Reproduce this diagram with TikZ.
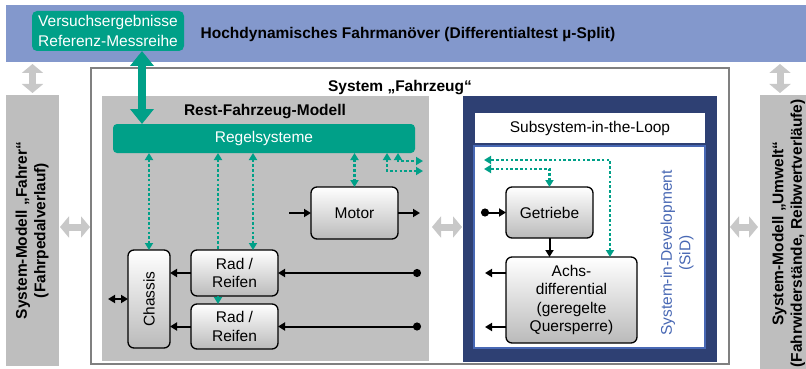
\documentclass[tikz,border=0pt]{standalone}
\usepackage{fontspec}
\setmainfont{Liberation Sans}
\usetikzlibrary{arrows.meta,calc}

\definecolor{bandblue}{RGB}{131,152,204}
\definecolor{regelgreen}{RGB}{0,160,136}
\definecolor{panelgray}{RGB}{192,192,192}
\definecolor{sidegray}{RGB}{190,190,190}
\definecolor{arrowgray}{RGB}{200,200,200}
\definecolor{sysgray}{RGB}{128,128,128}
\definecolor{silnavy}{RGB}{46,64,115}
\definecolor{sidblue}{RGB}{72,104,180}

\tikzset{
  basefont/.style={font=\fontsize{15.5}{18.5}\selectfont},
  boldfont/.style={font=\fontsize{15.5}{18.5}\selectfont\bfseries},
  blockbox/.style={draw=black, line width=1.3pt, rounded corners=6pt,
    top color=white, bottom color=black!27, align=center, basefont},
  fatgray/.style={draw=arrowgray, line width=7pt,
    {Triangle[length=9pt,width=21pt]}-{Triangle[length=9pt,width=21pt]}},
  fatgreen/.style={draw=regelgreen, line width=8pt,
    {Triangle[length=15pt,width=23pt]}-{Triangle[length=15pt,width=23pt]}},
  sig/.style={draw=regelgreen, line width=2.6pt, dash pattern=on 2.6pt off 2.2pt},
  gtip/.tip={Triangle[length=7pt,width=8pt]},
  flow/.style={draw=black, line width=2pt},
  btip/.tip={Triangle[length=7pt,width=8pt]},
  ctip/.tip={Circle[length=8pt]},
}

\begin{document}
\begin{tikzpicture}[x=1pt,y=-1pt, every node/.style={inner sep=0pt, outer sep=0pt}]
\useasboundingbox (0,0) rectangle (806,369);

% manoeuvre band
\node[fill=bandblue, minimum width=800pt, minimum height=57pt] (band) at (406,33.5) {};
\node[boldfont] (title) at (408,34) {Hochdynamisches Fahrman\"over (Differentialtest µ-Split)};
\node[fill=regelgreen, rounded corners=5pt, minimum width=152pt, minimum height=40pt,
      text=white, align=center, font=\fontsize{15.5}{19.5}\selectfont] (versuch) at (108,31)
      {Versuchsergebnisse\\Referenz-Messreihe};

% surrounding models
\node[fill=sidegray, minimum width=53pt, minimum height=271pt, boldfont] (fahrer) at (32.5,230.5)
  {\rotatebox{90}{\begin{tabular}{@{}c@{}}System-Modell „Fahrer“\\(Fahrpedalverlauf)\end{tabular}}};
\node[fill=sidegray, minimum width=58pt, minimum height=277pt, boldfont] (umwelt) at (789,233.5)
  {\rotatebox{90}{\begin{tabular}{@{}c@{}}System-Modell „Umwelt“\\(Fahrwiderstände, Reibwertverläufe)\end{tabular}}};

% vehicle system
\node[draw=sysgray, line width=2.5pt, fill=white, minimum width=638pt, minimum height=296pt] (system) at (410,216) {};
\node[boldfont] (systitle) at (400,88) {System „Fahrzeug“};

\node[fill=panelgray, minimum width=327pt, minimum height=265pt] (rest) at (265.5,228.5) {};
\node[boldfont] (resttitle) at (265,112) {Rest-Fahrzeug-Modell};

\node[fill=regelgreen, rounded corners=4pt, minimum width=302pt, minimum height=29pt,
      text=white, basefont] (regel) at (264,138.5) {Regelsysteme};

\node[blockbox, minimum width=87pt, minimum height=52pt] (motor) at (354.5,213) {Motor};
\node[blockbox, minimum width=42pt, minimum height=98pt] (chassis) at (149,299) {\rotatebox{90}{Chassis}};
\node[blockbox, minimum width=87pt, minimum height=46pt] (rad1) at (234.5,273) {Rad /\\Reifen};
\node[blockbox, minimum width=87pt, minimum height=45pt] (rad2) at (234.5,326.5) {Rad /\\Reifen};

% subsystem in the loop
\node[fill=silnavy, minimum width=254pt, minimum height=266pt] (sil) at (590,229) {};
\node[fill=white, minimum width=230pt, minimum height=30pt, basefont] (silhead) at (590,128) {Subsystem-in-the-Loop};
\node[fill=white, draw=sidblue, line width=2pt, minimum width=231pt, minimum height=202pt] (sid) at (589.5,246.5) {};
\node[rotate=90, text=sidblue, align=center, basefont] (sidlabel) at (677,253) {System-in-Development\\(SiD)};

\node[blockbox, minimum width=87pt, minimum height=51pt] (getriebe) at (549.5,212.5) {Getriebe};
\node[blockbox, minimum width=131pt, minimum height=86pt] (achs) at (571.5,300)
  {Achs-\\differential\\(geregelte\\Quersperre)};

% coupling arrows between the models
\coordinate (grayrow) at (0,227);
\coordinate (umcol) at (780,0);
\draw[fatgray] ([yshift=-2pt]band.south -| fahrer.north) -- ([yshift=2pt]fahrer.north);
\draw[fatgray] ([yshift=-2pt]band.south -| umcol) -- ([yshift=2pt]umwelt.north -| umcol);
\draw[fatgray] ([xshift=1pt]fahrer.east |- grayrow) -- ([xshift=-1pt]system.west |- grayrow);
\draw[fatgray] ([xshift=3pt]rest.east |- grayrow) -- ([xshift=-1pt]sil.west |- grayrow);
\draw[fatgray] ([xshift=1pt]system.east |- grayrow) -- ([xshift=-2pt]umwelt.west |- grayrow);

\draw[fatgreen] ([xshift=34pt]versuch.south) -- ([xshift=34pt]versuch.south |- regel.north);

% control signals
\draw[sig, gtip-gtip] (chassis.north |- regel.south) -- (chassis.north);
\draw[sig, gtip-] ([xshift=-16.5pt]rad1.north |- regel.south) -- ([xshift=-16.5pt]rad1.north);
\draw[sig, -gtip] ([xshift=-16.5pt]rad1.south) -- ([xshift=-16.5pt]rad2.north);
\draw[sig, gtip-gtip] ([xshift=18.5pt]rad1.north |- regel.south) -- ([xshift=18.5pt]rad1.north);
\draw[sig, gtip-gtip] (motor.north |- regel.south) -- (motor.north);
\coordinate (sigA) at (423,161);
\coordinate (sigB) at (423,171);
\draw[sig, gtip-gtip] ([xshift=-17pt]regel.south east) |- (sigA);
\draw[sig, gtip-gtip] ([xshift=-28pt]regel.south east) |- (sigB);
\coordinate (sigC) at (484,160);
\coordinate (sigD) at (484,169);
\draw[sig, gtip-gtip] ([xshift=38.5pt]achs.north) |- (sigC);
\draw[sig, gtip-gtip] (getriebe.north) |- (sigD);

% mechanical flows
\coordinate (motin) at (289,213);
\coordinate (motout) at (420,213);
\draw[flow, -btip] (motin) -- (motor.west);
\draw[flow, -btip] (motor.east) -- (motout);
\draw[flow, -btip] (rad1.west) -- (rad1.west -| chassis.east);
\draw[flow, -btip] (rad2.west) -- (rad2.west -| chassis.east);
\coordinate (rad1in) at (421,273);
\coordinate (rad2in) at (421,326.5);
\draw[flow, ctip-btip] (rad1in) -- (rad1.east);
\draw[flow, ctip-btip] (rad2in) -- (rad2.east);
\coordinate (chout) at (108,299);
\draw[flow, btip-btip] (chassis.west) -- (chout);

\coordinate (getin) at (481,212.5);
\draw[flow, ctip-btip] (getin) -- (getriebe.west);
\draw[flow, -btip] (getriebe.south) -- (getriebe.south |- achs.north);
\coordinate (achsout1) at (485,273);
\coordinate (achsout2) at (485,327);
\draw[flow, -btip] (achs.west |- achsout1) -- (achsout1);
\draw[flow, -btip] (achs.west |- achsout2) -- (achsout2);
\end{tikzpicture}
\end{document}
